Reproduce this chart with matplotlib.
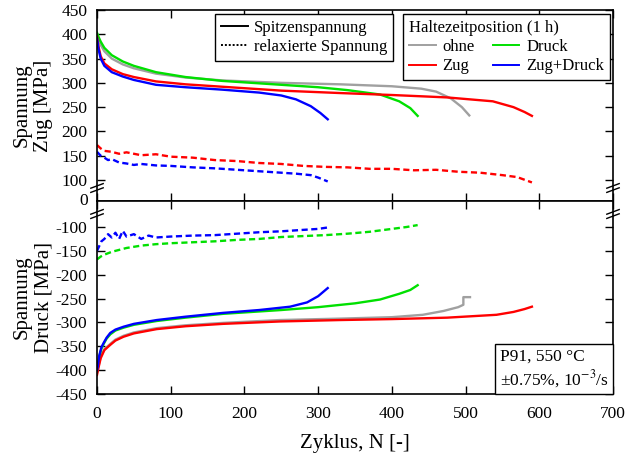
import matplotlib
matplotlib.use("Agg")
import matplotlib.pyplot as plt
from matplotlib.lines import Line2D
from matplotlib.offsetbox import AnchoredText

plt.rcParams['font.family'] = ['Liberation Serif', 'DejaVu Serif']
plt.rcParams['mathtext.fontset'] = 'stix'

# ---------------- data ----------------
# Tension peak stress (Spitzenspannung, Zug)
gray_top_N = [0, 2, 5, 10, 20, 35, 50, 80, 120, 170, 250, 330, 400, 440, 460, 480, 495, 505]
gray_top_S = [400, 390, 378, 365, 350, 338, 330, 319, 311, 305, 300, 297, 293, 288, 282, 268, 250, 233]
green_top_N = [0, 2, 5, 10, 20, 35, 50, 80, 120, 170, 250, 300, 340, 384, 410, 425, 435]
green_top_S = [403, 395, 385, 372, 357, 344, 335, 322, 312, 304, 296, 291, 285, 276, 262, 248, 232]
red_top_N = [0, 2, 5, 10, 20, 35, 50, 80, 120, 170, 250, 330, 400, 475, 537, 565, 580, 590]
red_top_S = [395, 375, 355, 340, 328, 318, 312, 303, 297, 292, 284, 279, 275, 270, 262, 250, 240, 232]
blue_top_N = [0, 2, 5, 10, 20, 35, 50, 80, 120, 170, 220, 250, 270, 290, 303, 313]
blue_top_S = [392, 370, 350, 335, 322, 313, 306, 296, 291, 286, 280, 274, 266, 252, 238, 225]

# Tension relaxed stress (relaxierte Spannung, Zug)
red_reltop_N = [0, 5, 10, 20, 30, 40, 60, 80, 100, 130, 160, 190, 220, 250, 280, 310, 340,
                370, 400, 430, 460, 490, 520, 550, 570, 590]
red_reltop_S = [172, 165, 160, 158, 154, 157, 151, 153, 148, 146, 141, 139, 135, 133, 129, 127, 126,
                123, 123, 120, 121, 117, 115, 110, 106, 95]
blue_reltop_N = [0, 5, 10, 15, 20, 30, 40, 50, 60, 80, 100, 130, 160, 190, 220, 250, 270, 290,
                 300, 313]
blue_reltop_S = [158, 150, 146, 141, 143, 136, 134, 131, 133, 130, 129, 126, 124, 121, 118, 115,
                 113, 110, 105, 97]

# Compression peak stress (Spitzenspannung, Druck)
gray_bot_N = [0, 2, 5, 10, 18, 25, 36, 50, 81, 120, 171, 248, 330, 400, 442, 470, 490, 497, 497, 506]
gray_bot_S = [-405, -392, -372, -356, -345, -336, -328, -321, -312, -306, -301, -295, -292, -289,
              -284, -276, -268, -263, -247, -247]
green_bot_N = [0, 1, 3, 6, 9, 13, 18, 25, 36, 50, 81, 120, 171, 250, 300, 350, 384, 410, 425, 435]
green_bot_S = [-405, -395, -372, -355, -345, -334, -325, -317, -311, -305, -297, -290, -282, -274,
               -268, -260, -252, -240, -232, -222]
red_bot_N = [0, 2, 5, 10, 18, 25, 36, 50, 81, 120, 171, 248, 330, 400, 475, 542, 565, 580, 590]
red_bot_S = [-410, -395, -375, -358, -347, -338, -330, -323, -314, -308, -303, -298, -295, -293,
             -290, -284, -278, -272, -267]
blue_bot_N = [0, 1, 3, 6, 9, 13, 18, 25, 36, 50, 81, 120, 171, 220, 262, 285, 300, 313]
blue_bot_S = [-400, -393, -370, -352, -343, -332, -322, -315, -309, -303, -295, -288, -280, -274,
              -267, -258, -245, -228]

# Compression relaxed stress (relaxierte Spannung, Druck)
green_relbot_N = [0, 5, 10, 20, 30, 40, 60, 80, 100, 130, 160, 190, 220, 250, 280, 310, 340, 370,
                  400, 420, 435]
green_relbot_S = [-168, -162, -158, -152, -148, -144, -139, -136, -134, -132, -130, -127, -125, -121,
                  -119, -117, -114, -110, -104, -100, -96]
blue_relbot_N = [0, 3, 6, 10, 15, 20, 25, 30, 35, 40, 50, 60, 70, 80, 100, 130, 160, 190, 220, 250,
                 280, 300, 313]
blue_relbot_S = [-150, -140, -130, -125, -115, -122, -112, -125, -108, -120, -115, -125, -118, -122,
                 -120, -118, -117, -114, -111, -109, -106, -104, -101]

x_ticks = [0, 100, 200, 300, 400, 500, 600, 700]
top_ticks = [100, 150, 200, 250, 300, 350, 400, 450]
bot_ticks = [-450, -400, -350, -300, -250, -200, -150, -100]

C_GRAY = '#a0a0a0'
C_GREEN = '#00e000'
C_RED = '#ff0000'
C_BLUE = '#0000ff'

# ---------------- figure ----------------
fig = plt.figure(figsize=(6.28, 4.62), dpi=100)
W, H = 628, 462
L, R = 97, 613
T, M, B = 10, 201, 394
ax1 = fig.add_axes([L / W, 1 - M / H, (R - L) / W, (M - T) / H])
ax2 = fig.add_axes([L / W, 1 - B / H, (R - L) / W, (B - M) / H])

lw = 1.7
dash = (0, (2.6, 1.5))
ax1.plot(gray_top_N, gray_top_S, color=C_GRAY, lw=lw)
ax1.plot(green_top_N, green_top_S, color=C_GREEN, lw=lw)
ax1.plot(red_top_N, red_top_S, color=C_RED, lw=lw)
ax1.plot(blue_top_N, blue_top_S, color=C_BLUE, lw=lw)
ax1.plot(red_reltop_N, red_reltop_S, color=C_RED, lw=lw, ls=dash)
ax1.plot(blue_reltop_N, blue_reltop_S, color=C_BLUE, lw=lw, ls=dash)

ax2.plot(gray_bot_N, gray_bot_S, color=C_GRAY, lw=lw)
ax2.plot(green_bot_N, green_bot_S, color=C_GREEN, lw=lw)
ax2.plot(red_bot_N, red_bot_S, color=C_RED, lw=lw)
ax2.plot(blue_bot_N, blue_bot_S, color=C_BLUE, lw=lw)
ax2.plot(green_relbot_N, green_relbot_S, color=C_GREEN, lw=lw, ls=dash)
ax2.plot(blue_relbot_N, blue_relbot_S, color=C_BLUE, lw=lw, ls=dash)

top_low = 450 - (M - T) * 350 / (180 - T)
bot_high = -100 + (227 - M) * 350 / (B - 227)
ax1.set_ylim(top_low, 450)
ax2.set_ylim(-450, bot_high)
for ax in (ax1, ax2):
    ax.set_xlim(0, 700)
    ax.set_xticks(x_ticks)
    ax.tick_params(direction='in', top=True, right=True, length=6, width=1,
                   labelsize=12.5, pad=7)
    for s in ax.spines.values():
        s.set_linewidth(1.2)
ax1.set_yticks(top_ticks)
ax2.set_yticks(bot_ticks)
ax1.tick_params(axis='x', labelbottom=False)
ax2.tick_params(axis='x', pad=9)
ax1.set_yticklabels([str(v) for v in top_ticks])
ax2.set_yticklabels([str(v) for v in bot_ticks])

ax1.text(-0.018, 0.0, '0', transform=ax1.transAxes, ha='right', va='center', fontsize=12.5)

ax1.set_ylabel('Spannung\nZug [MPa]', fontsize=15, multialignment='center')
ax2.set_ylabel('Spannung\nDruck [MPa]', fontsize=15, multialignment='center')
ax1.yaxis.set_label_coords(-0.085, 0.5)
ax2.yaxis.set_label_coords(-0.085, 0.5)
ax2.set_xlabel('Zyklus, N [-]', fontsize=15, labelpad=8)

# break marks
def brk(ax, yfrac):
    for xf in (0.0, 1.0):
        for dy in (-0.011, 0.011):
            ax.plot([xf - 0.012, xf + 0.012], [yfrac + dy - 0.012, yfrac + dy + 0.012],
                    transform=ax.transAxes, color='black', lw=1.0, clip_on=False)

brk(ax1, (M - 188) / (M - T))
brk(ax2, 1 - (214 - M) / (B - M))

# legends
h1 = [Line2D([], [], color='black', lw=1.4),
      Line2D([], [], color='black', lw=1.4, ls=(0, (1, 1)))]
leg1 = fig.legend(h1, ['Spitzenspannung', 'relaxierte Spannung'], loc='upper left',
                  bbox_to_anchor=(215 / W, 1 - 14 / H), fontsize=12, frameon=True,
                  fancybox=False, edgecolor='black', framealpha=1, borderaxespad=0,
                  handlelength=1.6, handletextpad=0.4, labelspacing=0.2, borderpad=0.35)
leg1.get_frame().set_linewidth(1.0)

h2 = [Line2D([], [], color=C_GRAY, lw=1.4), Line2D([], [], color=C_RED, lw=1.4),
      Line2D([], [], color=C_GREEN, lw=1.4), Line2D([], [], color=C_BLUE, lw=1.4)]
leg2 = fig.legend(h2, ['ohne', 'Zug', 'Druck', 'Zug+Druck'], ncol=2, loc='upper left',
                  bbox_to_anchor=(403 / W, 1 - 14 / H), fontsize=12, frameon=True,
                  fancybox=False, edgecolor='black', framealpha=1, borderaxespad=0,
                  title='Haltezeitposition (1 h)', title_fontsize=12, alignment='left',
                  handlelength=1.6, handletextpad=0.4, labelspacing=0.2, borderpad=0.35,
                  columnspacing=1.1)
leg2.get_frame().set_linewidth(1.0)

at = AnchoredText('P91, 550 °C\n±0.75%, 10$^{-3}$/s', loc='lower right', frameon=True,
                  borderpad=0.0, pad=0.25, prop=dict(fontsize=12.5))
at.patch.set_boxstyle('square,pad=0')
at.patch.set_linewidth(1.0)
at.patch.set_edgecolor('black')
ax2.add_artist(at)

fig.savefig('out.png', dpi=100)
